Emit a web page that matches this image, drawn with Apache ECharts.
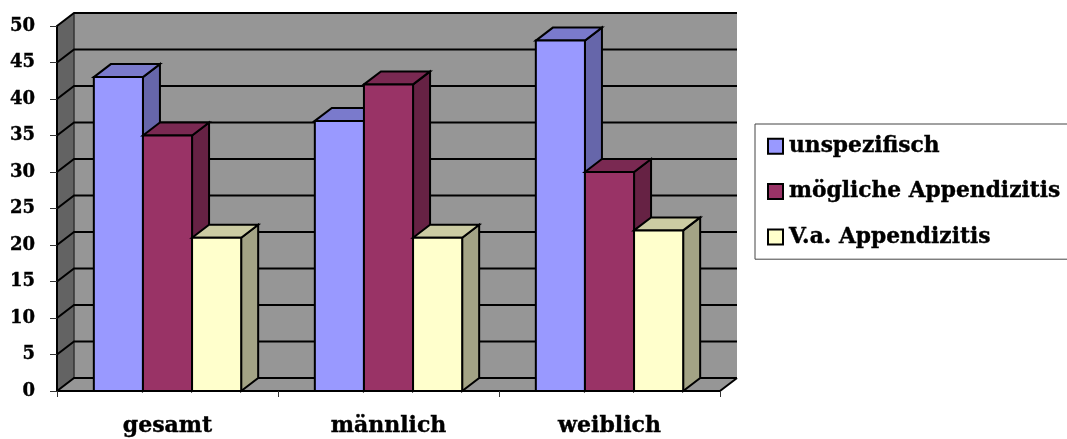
<!DOCTYPE html>
<html>
<head>
<meta charset="utf-8">
<style>html,body{margin:0;padding:0;background:#fff}#c{width:1067px;height:439px}</style>
<script src="https://cdn.jsdelivr.net/npm/echarts@6/dist/echarts.min.js"></script>
</head>
<body>
<div id="c"></div>
<script>
const categories = ['gesamt', 'männlich', 'weiblich'];
const unspezifisch = [43, 37, 48];
const moeglicheAppendizitis = [35, 42, 30];
const vaAppendizitis = [21, 21, 22];
const seriesNames = ['unspezifisch', 'mögliche Appendizitis', 'V.a. Appendizitis'];
const yTicks = [0, 5, 10, 15, 20, 25, 30, 35, 40, 45, 50];

const DX = 17, DY = 13;
const FONT = '"DejaVu Serif"';
const palette = [
  {front: '#9999FF', top: '#7A7ACC', side: '#6666AA'},
  {front: '#993366', top: '#7A2952', side: '#662244'},
  {front: '#FFFFCC', top: '#CCCCA3', side: '#A3A385'}
];
const edge = {stroke: '#000', lineWidth: 2, lineJoin: 'miter'};

function poly(points, fill, stroke) {
  return {type: 'polygon', shape: {points}, style: stroke === false ? {fill} : Object.assign({fill}, edge)};
}

function renderWalls(params, api) {
  const c = params.coordSys;
  const L = c.x, R = c.x + c.width, T = c.y, B = c.y + c.height;
  return {type: 'group', children: [
    poly([[L + DX, T - DY], [R + DX, T - DY], [R + DX, B - DY], [L + DX, B - DY]], '#969696', false),
    poly([[L, T], [L + DX, T - DY], [L + DX, B - DY], [L, B]], '#636363', false),
    poly([[L, B], [L + DX, B - DY], [R + DX, B - DY], [R, B]], '#969696', false),
    {type: 'polyline', shape: {points: [[L + DX, T - DY], [L + DX, B - DY]]}, style: {fill: null, stroke: '#333', lineWidth: 1.5}},
    {type: 'polyline', shape: {points: [[R, B], [R + DX, B - DY]]}, style: {fill: null, stroke: '#000', lineWidth: 2}}
  ]};
}

function renderGrid(params, api) {
  const c = params.coordSys;
  const y = api.coord([0, api.value(0)])[1];
  const L = c.x, R = c.x + c.width;
  return {type: 'polyline', shape: {points: [[L, y], [L + DX, y - DY], [R + DX, y - DY]]},
    style: {fill: null, stroke: '#000', lineWidth: 2}};
}

function makeBarRenderer(idx) {
  return function (params, api) {
    const p = palette[idx];
    const band = api.size([1, 0])[0];
    const w = band / 4.5;
    const top = api.coord([api.value(0), api.value(1)]);
    const base = api.coord([api.value(0), 0]);
    const x0 = top[0] - 1.5 * w + idx * w, x1 = x0 + w;
    const yt = top[1], yb = base[1];
    return {type: 'group', children: [
      poly([[x1, yt], [x1 + DX, yt - DY], [x1 + DX, yb - DY], [x1, yb]], p.side),
      poly([[x0, yt], [x0 + DX, yt - DY], [x1 + DX, yt - DY], [x1, yt]], p.top),
      poly([[x0, yt], [x1, yt], [x1, yb], [x0, yb]], p.front)
    ]};
  };
}

const seriesValues = [unspezifisch, moeglicheAppendizitis, vaAppendizitis];
const chart = echarts.init(document.getElementById('c'), null, {renderer: 'canvas'});
chart.setOption({
  animation: false,
  backgroundColor: '#fff',
  grid: {left: 57, top: 26, width: 663, height: 365, containLabel: false},
  xAxis: {
    type: 'category', data: categories, z: 10,
    axisLine: {show: true, lineStyle: {color: '#000', width: 2}},
    axisTick: {show: true, length: 6, lineStyle: {color: '#333', width: 1}},
    axisLabel: {color: '#000', fontFamily: FONT, fontWeight: 'bold', fontSize: 22, margin: 24,
      textBorderColor: '#000', textBorderWidth: 0.4}
  },
  yAxis: {
    type: 'value', min: 0, max: 50, interval: 5, z: 10,
    splitLine: {show: false},
    axisLine: {show: true, lineStyle: {color: '#000', width: 2}},
    axisTick: {show: true, length: 7, lineStyle: {color: '#333', width: 1}},
    axisLabel: {color: '#000', fontFamily: FONT, fontWeight: 'bold', fontSize: 18, margin: 22,
      textBorderColor: '#000', textBorderWidth: 0.4}
  },
  legend: {
    data: seriesNames, orient: 'vertical', left: 755, top: 124,
    backgroundColor: '#fff', borderColor: '#444', borderWidth: 1,
    padding: [11, 40, 11, 12],
    itemWidth: 15, itemHeight: 15, itemGap: 23,
    icon: 'rect', selectedMode: false,
    itemStyle: {borderColor: '#000', borderWidth: 2},
    textStyle: {color: '#000', fontFamily: FONT, fontWeight: 'bold', fontSize: 21.75, padding: [0, 0, 0, 1],
      textBorderColor: '#000', textBorderWidth: 0.4}
  },
  series: [
    {type: 'custom', name: 'walls', silent: true, renderItem: renderWalls, data: [[0]], encode: {x: 0}, z: 1},
    {type: 'custom', name: 'grid', silent: true, renderItem: renderGrid, data: yTicks.map(v => [v]), encode: {y: 0}, z: 1}
  ].concat(seriesNames.map((name, i) => ({
    type: 'custom', name, renderItem: makeBarRenderer(i), z: 3,
    itemStyle: {color: palette[i].front},
    data: seriesValues[i].map((v, k) => [k, v]), encode: {x: 0, y: 1}
  })))
});
</script>
</body>
</html>
